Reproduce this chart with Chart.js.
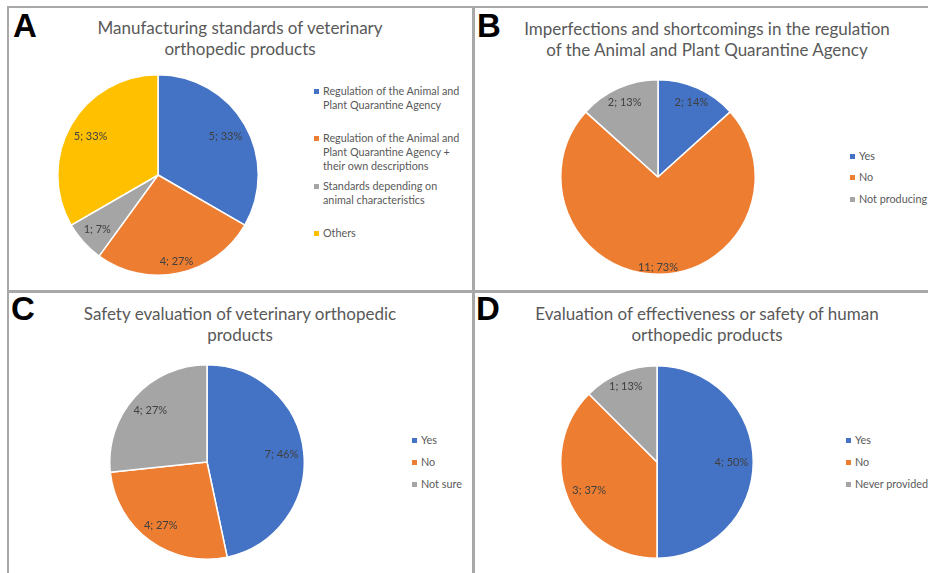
<!DOCTYPE html>
<html>
<head>
<meta charset="utf-8">
<script src="https://cdn.jsdelivr.net/npm/chart.js@4.4.1/dist/chart.umd.min.js"></script>
<style>
  html,body{margin:0;padding:0;background:#fff;}
  body{width:928px;height:573px;overflow:hidden;position:relative;font-family:Lato,"Open Sans",sans-serif;}
  .line{position:absolute;background:#a8a8a8;}
  .letter{position:absolute;font-family:"Liberation Sans",Arial,sans-serif;font-weight:bold;font-size:33px;line-height:33px;color:#000;}
  .title{position:absolute;text-align:center;color:#595959;font-size:17px;line-height:21px;white-space:nowrap;}
  .item{position:absolute;line-height:14px;white-space:pre;font-size:10.8px;color:#595959;}
  .mark{position:absolute;width:5px;height:5px;}
  canvas{position:absolute;}
</style>
</head>
<body>
<script>
// ---------------- data ----------------
const titleA = ["Manufacturing standards of veterinary", "orthopedic products"];
const categoriesA = ["Regulation of the Animal and\nPlant Quarantine Agency",
                     "Regulation of the Animal and\nPlant Quarantine Agency +\ntheir own descriptions",
                     "Standards depending on\nanimal characteristics",
                     "Others"];
const countsA = [5, 4, 1, 5];
const percentsA = [33, 27, 7, 33];

const titleB = ["Imperfections and shortcomings in the regulation", "of the Animal and Plant Quarantine Agency"];
const categoriesB = ["Yes", "No", "Not producing"];
const countsB = [2, 11, 2];
const percentsB = [14, 73, 13];

const titleC = ["Safety evaluation of veterinary orthopedic", "products"];
const categoriesC = ["Yes", "No", "Not sure"];
const countsC = [7, 4, 4];
const percentsC = [46, 27, 27];

const titleD = ["Evaluation of effectiveness or safety of human", "orthopedic products"];
const categoriesD = ["Yes", "No", "Never provided"];
const countsD = [4, 3, 1];
const percentsD = [50, 37, 13];

const panelLetters = ["A", "B", "C", "D"];
const sliceColors = ["#4472C4", "#ED7D31", "#A5A5A5", "#FFC000"];

// ---------------- layout ----------------
function addDiv(cls, style, text){
  const d = document.createElement('div');
  d.className = cls;
  Object.assign(d.style, style);
  if (text !== undefined) d.textContent = text;
  document.body.appendChild(d);
  return d;
}
// frame lines
addDiv('line', {left:'7px', top:'6px', width:'921px', height:'2px'});
addDiv('line', {left:'7px', top:'6px', width:'2px', height:'567px'});
addDiv('line', {left:'472px', top:'6px', width:'3px', height:'567px'});
addDiv('line', {left:'7px', top:'290px', width:'921px', height:'3px'});

const panels = [
  {letter:panelLetters[0], lx:13, ly:9, title:titleA, tx:240, ty:17, cats:categoriesA, counts:countsA, pct:percentsA,
   cx:158, cy:175, r:100, legX:314, legTops:[84,131,179,226]},
  {letter:panelLetters[1], lx:477, ly:9, title:titleB, tx:707, ty:18, cats:categoriesB, counts:countsB, pct:percentsB,
   cx:658, cy:177, r:97, legX:850, legTops:[149,170,192]},
  {letter:panelLetters[2], lx:11, ly:292, title:titleC, tx:240, ty:303, cats:categoriesC, counts:countsC, pct:percentsC,
   cx:207, cy:462, r:97, legX:412, legTops:[433,455,477]},
  {letter:panelLetters[3], lx:476, ly:292, title:titleD, tx:707, ty:303, cats:categoriesD, counts:countsD, pct:percentsD,
   cx:657, cy:462, r:96, legX:846, legTops:[433,455,477]}
];

const sliceLabels = {
  id: 'sliceLabels',
  afterDatasetsDraw(chart, args, opts){
    const ctx = chart.ctx;
    const meta = chart.getDatasetMeta(0);
    ctx.save();
    ctx.font = '11px Lato, sans-serif';
    ctx.fillStyle = '#404040';
    ctx.textAlign = 'center';
    ctx.textBaseline = 'middle';
    meta.data.forEach((arc, i) => {
      const p = arc.getProps(['x','y','startAngle','endAngle','outerRadius'], true);
      const mid = (p.startAngle + p.endAngle) / 2;
      const ux = Math.cos(mid), uy = Math.sin(mid);
      const text = opts.texts[i];
      const w = ctx.measureText(text).width;
      const ext = Math.abs(ux) * (w / 2 + 5) + Math.abs(uy) * (5 + 2);
      const d = p.outerRadius - ext;
      ctx.fillText(text, p.x + ux * d, p.y + uy * d);
    });
    ctx.restore();
  }
};

panels.forEach(P => {
  addDiv('letter', {left:P.lx+'px', top:P.ly+'px'}, P.letter);
  const t = addDiv('title', {left:(P.tx-250)+'px', width:'500px', top:P.ty+'px'});
  P.title.forEach(ln => {
    const s = document.createElement('div');
    s.textContent = ln;
    t.appendChild(s);
  });
  P.cats.forEach((c, i) => {
    addDiv('mark', {left:P.legX+'px', top:(P.legTops[i]+5)+'px', background:sliceColors[i]});
    addDiv('item', {left:(P.legX+9)+'px', top:P.legTops[i]+'px'}, c);
  });
  const size = 2 * P.r + 2;
  const cv = document.createElement('canvas');
  cv.width = size; cv.height = size;
  cv.style.left = (P.cx - size / 2) + 'px';
  cv.style.top = (P.cy - size / 2) + 'px';
  cv.style.width = size + 'px'; cv.style.height = size + 'px';
  document.body.appendChild(cv);
  new Chart(cv, {
    type: 'pie',
    data: {
      labels: P.cats,
      datasets: [{
        data: P.counts,
        backgroundColor: sliceColors.slice(0, P.counts.length),
        borderColor: '#ffffff',
        borderWidth: 1.5
      }]
    },
    options: {
      responsive: false,
      animation: false,
      events: [],
      layout: {padding: 0},
      plugins: {
        legend: {display: false},
        tooltip: {enabled: false},
        title: {display: false},
        sliceLabels: {texts: P.counts.map((v, i) => v + '; ' + P.pct[i] + '%')}
      }
    },
    plugins: [sliceLabels]
  });
});
</script>
</body>
</html>
